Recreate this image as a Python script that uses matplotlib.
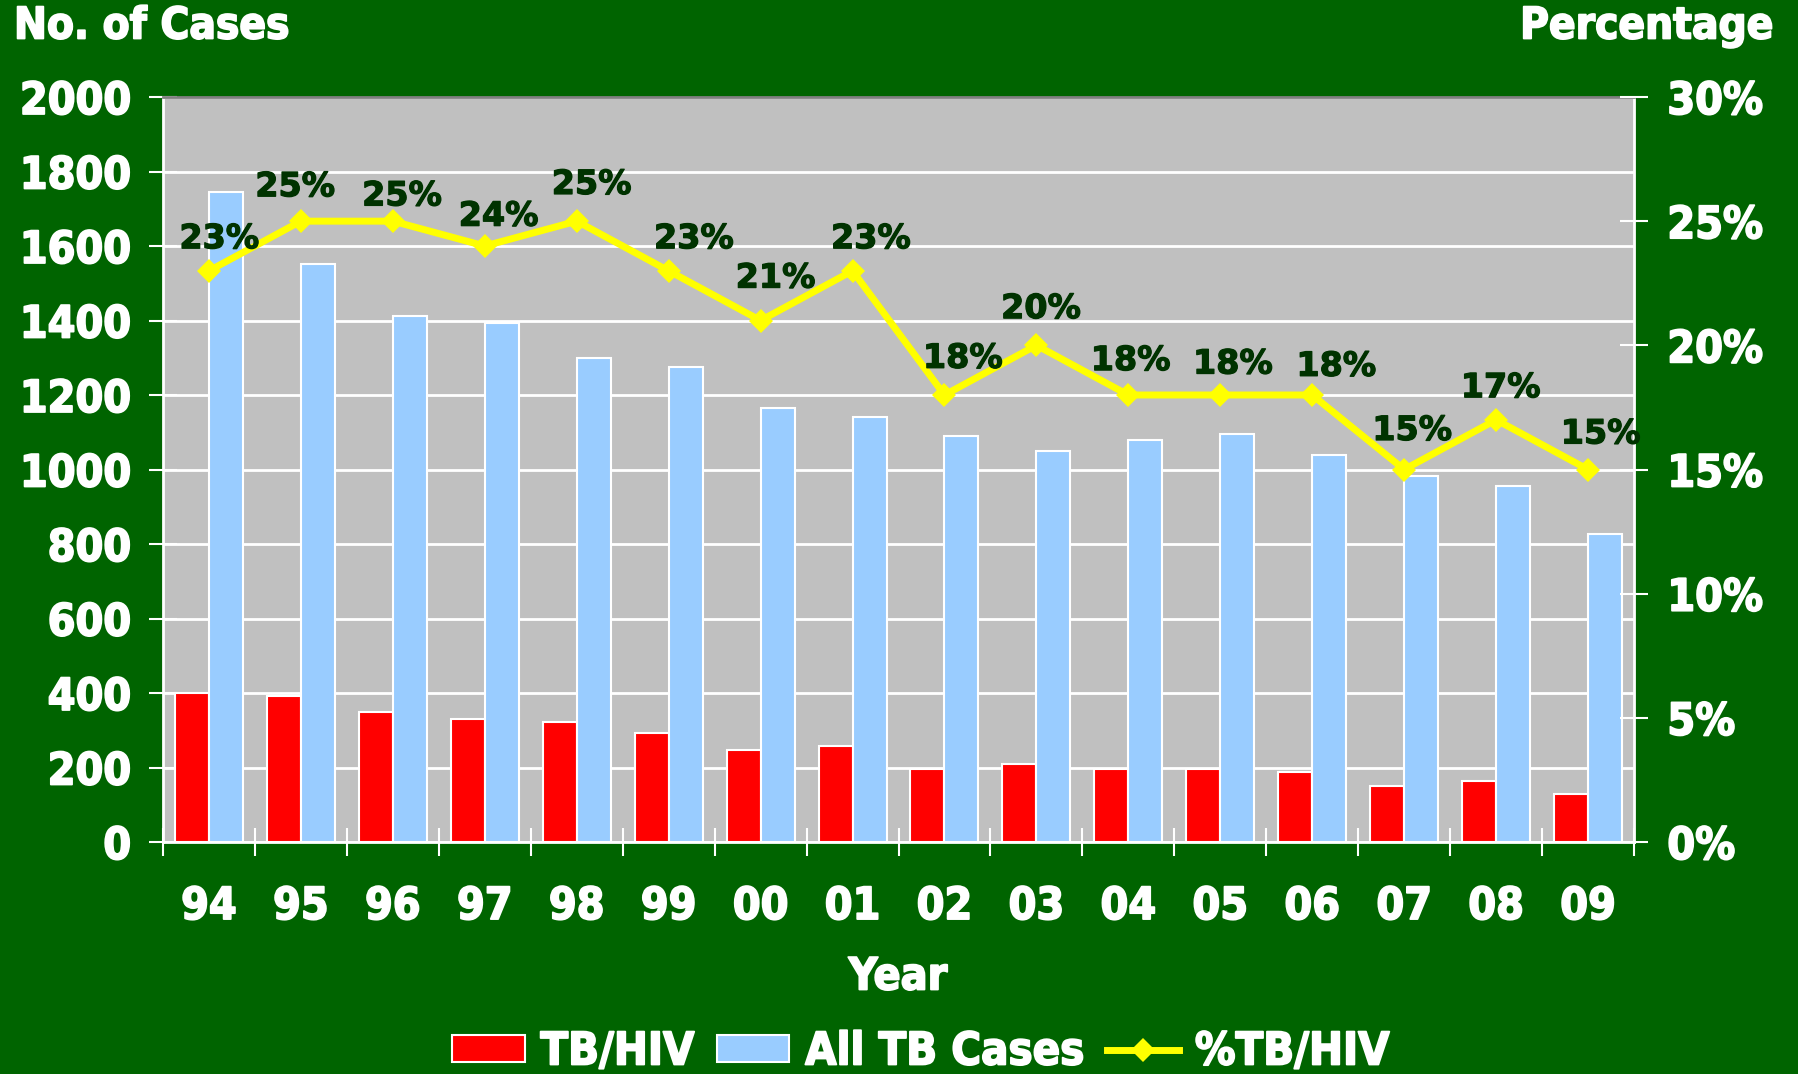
import matplotlib
matplotlib.use("Agg")
import matplotlib.pyplot as plt
from matplotlib import font_manager as fm
from matplotlib.patches import Patch
from matplotlib.lines import Line2D
import matplotlib.patheffects as pe
import numpy as np

years = ["94", "95", "96", "97", "98", "99", "00", "01", "02", "03", "04", "05", "06", "07", "08", "09"]
tb_hiv = [400, 391, 348, 329, 323, 292, 246, 258, 197, 209, 197, 197, 188, 151, 163, 129]
all_tb = [1745, 1551, 1412, 1394, 1298, 1274, 1166, 1142, 1089, 1049, 1080, 1095, 1040, 982, 957, 828]
pct_tb_hiv = [23, 25, 25, 24, 25, 23, 21, 23, 18, 20, 18, 18, 18, 15, 17, 15]
pct_labels = [f"{v}%" for v in pct_tb_hiv]

# label offsets (pixels) for the data labels, hand-placed as in the original
label_dx = [9, -5, 8, 12, 13, 22, 13, 16, 16, 4, 2, 11, 21, 7, 4, 11]
label_dy = [28, 30, 22, 26, 32, 28, 37, 28, 32, 32, 30, 27, 25, 34, 28, 31]

# find condensed bold font (Tahoma-like)
cond = None
for f in fm.fontManager.ttflist:
    if "DejaVuSansCondensed-Bold.ttf" in f.fname:
        cond = f.fname
if cond:
    FP = lambda s: fm.FontProperties(fname=cond, size=s)
else:
    FP = lambda s: fm.FontProperties(family="DejaVu Sans", weight="bold", size=s)

WHITE_FX = [pe.withStroke(linewidth=1.3, foreground="white")]
LAB_FX = [pe.withStroke(linewidth=0.9, foreground="#003300")]

BG = "#006400"
PLOT_BG = "#C0C0C0"
W = 1798; H = 1074
fig = plt.figure(figsize=(W / 100, H / 100), dpi=100, facecolor=BG)
l, r, t, b = 163, 1634, 97, 842
ax = fig.add_axes([l / W, 1 - b / H, (r - l) / W, (b - t) / H])
ax.set_facecolor(PLOT_BG)

x = np.arange(len(years))
bw = 0.37
ax.bar(x - bw / 2, tb_hiv, bw, color="#FF0000", edgecolor="white", linewidth=1.5, zorder=3)
ax.bar(x + bw / 2, all_tb, bw, color="#99CCFF", edgecolor="white", linewidth=1.5, zorder=3)
ax.set_xlim(-0.5, len(years) - 0.5)
ax.set_ylim(0, 2000)
ax.set_yticks(range(0, 2001, 200))
ax.grid(axis="y", color="white", linewidth=2, zorder=1)
ax.set_axisbelow(True)

for s in ["left", "bottom", "right"]:
    ax.spines[s].set_color("white")
    ax.spines[s].set_linewidth(2)
ax.spines["top"].set_color("#808080")
ax.spines["top"].set_linewidth(2)

ax.set_xticks(x)
ax.set_xticklabels(years)
ax.set_xticks(np.arange(-0.5, len(years)), minor=True)
ax.tick_params(axis="x", which="major", length=0, pad=31, colors="white")
ax.tick_params(axis="x", which="minor", direction="inout", length=20, width=1.5, color="white")
ax.tick_params(axis="y", direction="inout", length=20, width=1.5, color="white", labelcolor="white", pad=13)
for lab in ax.get_xticklabels() + ax.get_yticklabels():
    lab.set_fontproperties(FP(32))
    lab.set_path_effects(WHITE_FX)

ax2 = ax.twinx()
ax2.set_ylim(0, 30)
ax2.set_yticks(range(0, 31, 5))
ax2.set_yticklabels([f"{v}%" for v in range(0, 31, 5)])
ax2.tick_params(axis="y", direction="inout", length=20, width=1.5, color="white", labelcolor="white", pad=14)
for lab in ax2.get_yticklabels():
    lab.set_fontproperties(FP(32))
    lab.set_path_effects(WHITE_FX)
for s in ax2.spines.values():
    s.set_visible(False)

ax2.plot(x, pct_tb_hiv, color="#FFFF00", linewidth=5, marker="D", markersize=12.5,
         markeredgewidth=0, zorder=5, clip_on=False)
for i, (v, lab) in enumerate(zip(pct_tb_hiv, pct_labels)):
    ax2.annotate(lab, (x[i], v), xytext=(label_dx[i] * 1.1467, label_dy[i] * 1.1467),
                 textcoords="offset pixels", ha="center", va="center",
                 color="#003300", fontsize=24, fontweight="bold", family="DejaVu Sans",
                 zorder=6, path_effects=LAB_FX)

for xx, txt, ha in [(14, "No. of Cases", "left"), (1773, "Percentage", "right")]:
    fig.text(xx / W, 1 - 26 / H, txt, color="white", fontproperties=FP(31.5), ha=ha, va="center",
             path_effects=WHITE_FX)
fig.text(898 / W, 1 - 977 / H, "Year", color="white", fontproperties=FP(32), ha="center", va="center",
         path_effects=WHITE_FX)

handles = [Patch(facecolor="#FF0000", edgecolor="white", linewidth=1.5),
           Patch(facecolor="#99CCFF", edgecolor="white", linewidth=1.5),
           Line2D([], [], color="#FFFF00", linewidth=5, marker="D", markersize=12.5, markeredgewidth=0)]
leg = fig.legend(handles, ["TB/HIV", "All TB Cases", "%TB/HIV"], loc="center",
                 bbox_to_anchor=(921 / W, 1 - 1052 / H), ncol=3, frameon=False,
                 prop=FP(32.5), handlelength=1.6, handleheight=0.55, handletextpad=0.35,
                 columnspacing=0.5, borderpad=0)
for txt in leg.get_texts():
    txt.set_color("white")
    txt.set_path_effects(WHITE_FX)

fig.savefig("out.png", dpi=100, facecolor=BG)
